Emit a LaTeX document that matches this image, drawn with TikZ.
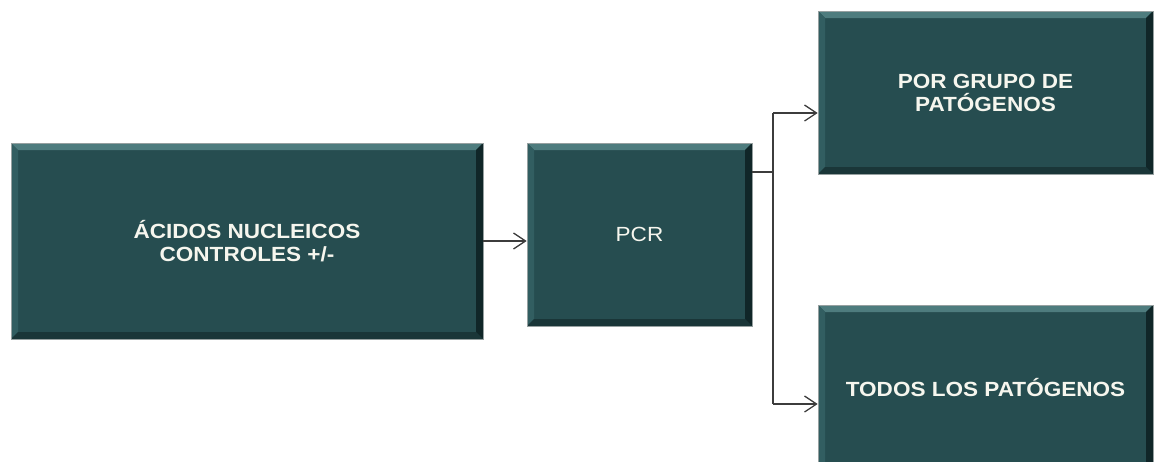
\documentclass[tikz,border=0pt]{standalone}
\usepackage{fontspec}
\setmainfont{Liberation Sans}[FakeStretch=1.1]
\usetikzlibrary{arrows.meta,calc}

\definecolor{boxteal}{RGB}{38,77,80}
\definecolor{bevtop}{RGB}{78,124,126}
\definecolor{bevleft}{RGB}{50,94,97}
\definecolor{bevbottom}{RGB}{26,54,56}
\definecolor{bevright}{RGB}{16,38,40}
\definecolor{edgegray}{RGB}{150,160,160}
\definecolor{labelwhite}{RGB}{246,246,238}
\definecolor{linkgray}{RGB}{60,60,60}

\tikzset{
  bevelbox/.style={
    fill=boxteal, draw=edgegray, line width=0.6pt, inner sep=0pt,
    text=labelwhite, align=center,
    font=\fontsize{20.5}{23}\selectfont\bfseries,
    path picture={
      \coordinate (nw) at (path picture bounding box.north west);
      \coordinate (ne) at (path picture bounding box.north east);
      \coordinate (sw) at (path picture bounding box.south west);
      \coordinate (se) at (path picture bounding box.south east);
      \fill[bevtop] (nw) -- (ne) -- ([shift={(-7pt,-7pt)}]ne) -- ([shift={(7pt,-7pt)}]nw) -- cycle;
      \fill[bevleft] (nw) -- (sw) -- ([shift={(7pt,7pt)}]sw) -- ([shift={(7pt,-7pt)}]nw) -- cycle;
      \fill[bevbottom] (sw) -- (se) -- ([shift={(-7pt,7pt)}]se) -- ([shift={(7pt,7pt)}]sw) -- cycle;
      \fill[bevright] (ne) -- (se) -- ([shift={(-7pt,7pt)}]se) -- ([shift={(-7pt,-7pt)}]ne) -- cycle;
    }},
  link/.style={draw=linkgray, line width=1.5pt},
  arr/.style={link, -{Straight Barb[length=12pt,width=16pt,line width=1.3pt]}}
}

\begin{document}
\begin{tikzpicture}[x=1pt,y=-1pt]
  \useasboundingbox (0,0) rectangle (1155,461);
  \begin{scope}
    \clip (0,0) rectangle (1155,461);

    \node[bevelbox, minimum width=472pt, minimum height=196pt] (acid) at (247,241)
      {ÁCIDOS NUCLEICOS\\CONTROLES +/-};
    \node[bevelbox, minimum width=225pt, minimum height=183pt,
          font=\fontsize{20.5}{23}\selectfont] (pcr) at (639.5,234.5) {PCR};
    \node[bevelbox, minimum width=335pt, minimum height=163pt] (grp) at (985.5,92.5)
      {POR GRUPO DE\\PATÓGENOS};
    \node[bevelbox, minimum width=335pt, minimum height=165pt] (todos) at (985.5,387.5)
      {TODOS LOS PATÓGENOS};

    % branch point to the right of PCR
    \coordinate (split) at (773,172);
    \coordinate (upper) at (773,113);
    \coordinate (lower) at (773,404);

    \draw[arr] (acid.east) -- (pcr.west |- acid.east);
    \draw[link] (pcr.east |- split) -- (split);
    \draw[link] (upper) -- (lower);
    \draw[arr] (upper) -- (grp.west |- upper);
    \draw[arr] (lower) -- (todos.west |- lower);
  \end{scope}
\end{tikzpicture}
\end{document}
